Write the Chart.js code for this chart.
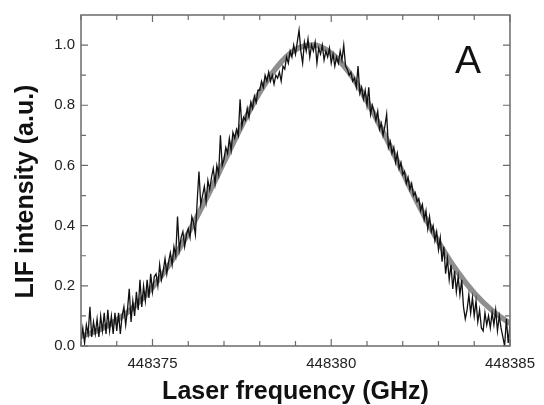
<!DOCTYPE html>
<html lang="en">
<head>
<meta charset="utf-8">
<title>LIF intensity</title>
<script src="https://cdn.jsdelivr.net/npm/chart.js@4.4.1/dist/chart.umd.min.js"></script>
<style>
    html, body { margin: 0; padding: 0; background: #fff; }
    canvas { display: block; }
</style>
</head>
<body>
<canvas id="chartLif" width="544" height="405"></canvas>
<script>
// ============================================================
//  LIF — espectro de fluorescencia + ajuste gaussiano
// ============================================================

// ── Barrido del láser (muestras equiespaciadas) ──
const INICIO_BARRIDO = 448373.00;   // GHz
const PASO_BARRIDO   = 0.05;        // GHz

// Señal medida, una fila por GHz (20 muestras)
const senalLif = [
    0.02, 0.06, 0.01, 0.07, 0.04, 0.13, 0.03, 0.08, 0.04, 0.09, 0.03, 0.10, 0.05, 0.11, 0.04, 0.12, 0.05, 0.10, 0.04, 0.11,
    0.05, 0.11, 0.04, 0.10, 0.13, 0.07, 0.12, 0.19, 0.08, 0.15, 0.10, 0.18, 0.12, 0.22, 0.13, 0.20, 0.15, 0.22, 0.16, 0.24,
    0.18, 0.23, 0.24, 0.20, 0.27, 0.22, 0.25, 0.29, 0.24, 0.28, 0.31, 0.27, 0.33, 0.30, 0.43, 0.32, 0.36, 0.38, 0.33, 0.37,
    0.39, 0.36, 0.43, 0.41, 0.37, 0.48, 0.58, 0.47, 0.50, 0.53, 0.48, 0.55, 0.52, 0.56, 0.59, 0.54, 0.60, 0.57, 0.70, 0.60,
    0.62, 0.66, 0.64, 0.69, 0.65, 0.71, 0.69, 0.72, 0.70, 0.82, 0.73, 0.76, 0.75, 0.79, 0.76, 0.81, 0.79, 0.83, 0.81, 0.85,
    0.85, 0.88, 0.86, 0.90, 0.88, 0.91, 0.88, 0.90, 0.87, 0.90, 0.89, 0.91, 0.88, 0.93, 0.92, 0.96, 0.94, 0.98, 0.96, 1.00,
    0.97, 1.01, 1.05, 0.98, 0.94, 1.01, 0.98, 1.02, 0.96, 1.00, 0.98, 1.01, 0.94, 0.99, 0.97, 1.00, 0.95, 0.98, 0.96, 0.99,
    0.94, 0.97, 0.93, 0.96, 0.94, 0.98, 0.95, 1.00, 0.93, 0.92, 0.90, 0.91, 0.88, 0.89, 0.86, 0.93, 0.84, 0.86, 0.82, 0.85,
    0.80, 0.86, 0.77, 0.80, 0.78, 0.75, 0.78, 0.72, 0.74, 0.70, 0.73, 0.77, 0.66, 0.68, 0.64, 0.66, 0.61, 0.64, 0.59, 0.61,
    0.57, 0.58, 0.54, 0.56, 0.52, 0.54, 0.50, 0.51, 0.48, 0.49, 0.45, 0.47, 0.42, 0.45, 0.39, 0.43, 0.38, 0.40, 0.35, 0.38,
    0.32, 0.36, 0.28, 0.33, 0.24, 0.29, 0.22, 0.27, 0.19, 0.25, 0.18, 0.23, 0.17, 0.22, 0.13, 0.09, 0.12, 0.17, 0.11, 0.16,
    0.10, 0.15, 0.08, 0.12, 0.06, 0.05, 0.11, 0.07, 0.10, 0.06, 0.11, 0.07, 0.12, 0.05, 0.10, 0.06, 0.03, 0.00, 0.09, 0.01,
    0.07,
];

// ── Curva de ajuste (gris) ──
const ajusteFrecuencia = [
    448373.0, 448373.5, 448374.0, 448374.5, 448375.0, 448375.5, 448376.0, 448376.5, 448377.0,
    448377.5, 448378.0, 448378.5, 448379.0, 448379.5, 448380.0, 448380.5, 448381.0, 448381.5,
    448382.0, 448382.5, 448383.0, 448383.5, 448384.0, 448384.5, 448385.0,
];
const ajusteIntensidad = [
    0.032, 0.053, 0.086, 0.132, 0.195, 0.276, 0.375, 0.489, 0.611,
    0.733, 0.843, 0.930, 0.985, 1.000, 0.973, 0.909, 0.814, 0.700,
    0.577, 0.456, 0.346, 0.252, 0.176, 0.118, 0.075,
];

// ── Marcas de los ejes ──
const ticksX     = [448373, 448374, 448375, 448376, 448377, 448378, 448379, 448380, 448381, 448382, 448383, 448384, 448385];
const etiquetasX = [448375, 448380, 448385];
const ticksY     = [0, 0.1, 0.2, 0.3, 0.4, 0.5, 0.6, 0.7, 0.8, 0.9, 1.0];
const etiquetasY = [0, 0.2, 0.4, 0.6, 0.8, 1.0];

const FUENTE = '"Liberation Sans", Arial, Helvetica, sans-serif';

// ── Marco con ticks hacia dentro en los cuatro lados, título Y y rótulo "A" ──
const marcoConTicks = {
    id: 'marcoConTicks',
    afterDatasetsDraw(chart) {
        const { ctx, chartArea: a, scales: { x, y } } = chart;
        ctx.save();
        ctx.strokeStyle = '#6b6b6b';
        ctx.lineWidth = 1.5;
        ctx.strokeRect(a.left, a.top, a.right - a.left, a.bottom - a.top);

        ctx.lineWidth = 1.2;
        ctx.beginPath();
        ticksX.forEach(v => {
            const px = x.getPixelForValue(v);
            const largo = etiquetasX.includes(v) ? 7 : 5;
            ctx.moveTo(px, a.bottom); ctx.lineTo(px, a.bottom - largo);
            ctx.moveTo(px, a.top);    ctx.lineTo(px, a.top + largo);
        });
        ticksY.forEach(v => {
            const py = y.getPixelForValue(v);
            const largo = etiquetasY.includes(v) ? 7 : 5;
            ctx.moveTo(a.left, py);  ctx.lineTo(a.left + largo, py);
            ctx.moveTo(a.right, py); ctx.lineTo(a.right - largo, py);
        });
        ctx.stroke();

        // rótulo del panel
        ctx.fillStyle = '#111';
        ctx.font = `39px ${FUENTE}`;
        ctx.textAlign = 'center';
        ctx.textBaseline = 'alphabetic';
        ctx.fillText('A', a.right - 42, a.top + 58);

        // título del eje Y (algo desplazado hacia abajo, como en el original)
        ctx.translate(26, (a.top + a.bottom) / 2 + 11);
        ctx.rotate(-Math.PI / 2);
        ctx.font = `bold 25px ${FUENTE}`;
        ctx.textBaseline = 'middle';
        ctx.fillText('LIF intensity (a.u.)', 0, 0);
        ctx.restore();
    },
};

const puntosSenal  = senalLif.map((v, i) => ({ x: INICIO_BARRIDO + i * PASO_BARRIDO, y: v }));
const puntosAjuste = ajusteFrecuencia.map((f, i) => ({ x: f, y: ajusteIntensidad[i] }));

new Chart(document.getElementById('chartLif').getContext('2d'), {
    type: 'line',
    data: {
        datasets: [
            {
                label: 'LIF',
                data: puntosSenal,
                borderColor: '#111',
                borderWidth: 1.3,
                pointRadius: 0,
                tension: 0,
            },
            {
                label: 'Ajuste',
                data: puntosAjuste,
                borderColor: '#8f8f8f',
                borderWidth: 5.5,
                pointRadius: 0,
                cubicInterpolationMode: 'monotone',
            },
        ],
    },
    options: {
        responsive: false,
        animation: false,
        layout: { padding: { top: 15, right: 30, bottom: 0, left: 0 } },
        plugins: { legend: { display: false }, tooltip: { enabled: false } },
        scales: {
            x: {
                type: 'linear',
                min: 448373,
                max: 448385,
                grid: { display: false, drawTicks: false },
                border: { display: false },
                afterBuildTicks: s => { s.ticks = ticksX.map(v => ({ value: v })); },
                afterFit: s => { s.height = 59; },
                ticks: {
                    padding: 9,
                    maxRotation: 0,
                    autoSkip: false,
                    color: '#222',
                    font: { family: FUENTE, size: 15 },
                    callback: v => (etiquetasX.includes(v) ? String(v) : ''),
                },
                title: {
                    display: true,
                    text: 'Laser frequency (GHz)',
                    color: '#111',
                    font: { family: FUENTE, size: 25, weight: 'bold', lineHeight: 1 },
                    padding: { top: 0, bottom: 0 },
                },
            },
            y: {
                min: 0,
                max: 1.1,
                grid: { display: false, drawTicks: false },
                border: { display: false },
                afterBuildTicks: s => { s.ticks = ticksY.map(v => ({ value: v })); },
                afterFit: s => { s.width = 81; },
                ticks: {
                    padding: 6,
                    autoSkip: false,
                    color: '#222',
                    font: { family: FUENTE, size: 15 },
                    callback: v => (etiquetasY.includes(v) ? v.toFixed(1) : ''),
                },
            },
        },
    },
    plugins: [marcoConTicks],
});
</script>
</body>
</html>
